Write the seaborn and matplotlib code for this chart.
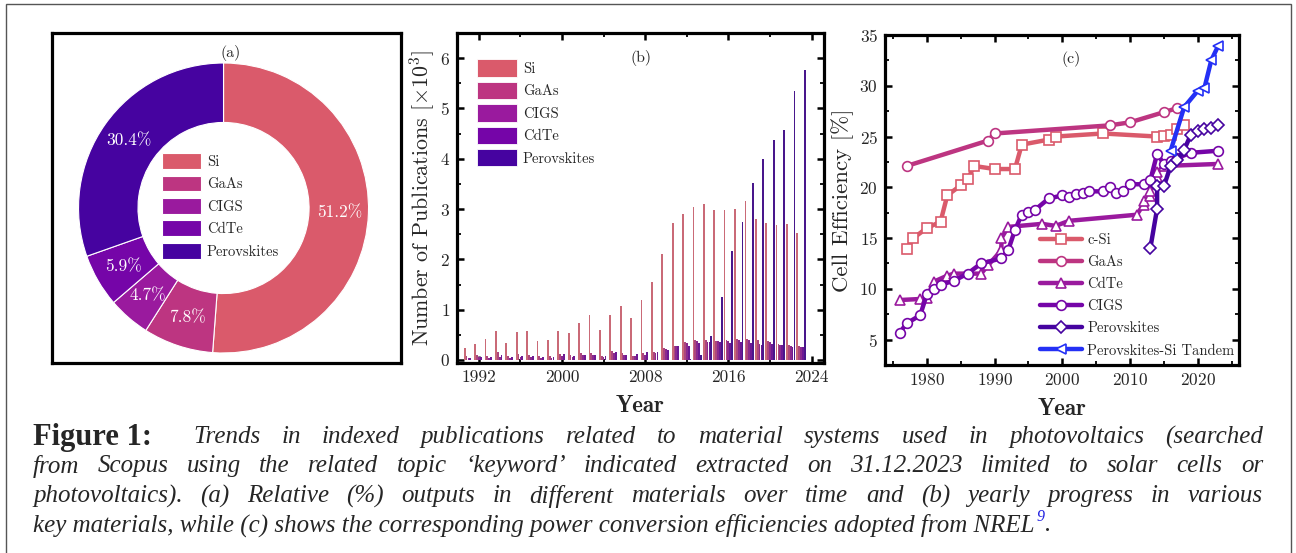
import numpy as np
import pandas as pd
import matplotlib
matplotlib.use('Agg')
import matplotlib.pyplot as plt
import seaborn as sns
from matplotlib.patches import Patch, Rectangle
from matplotlib.ticker import AutoMinorLocator, MultipleLocator

# ---- data ----
materials = ['Si', 'GaAs', 'CIGS', 'CdTe', 'Perovskites']
mat_colors = ['#DA5A6B', '#BD3581', '#9A1A9E', '#7505A8', '#4603A0']
share = [51.2, 7.8, 4.7, 5.9, 30.4]

years = list(range(1991, 2024))
pub_si = [0.24, 0.31, 0.42, 0.58, 0.33, 0.55, 0.57, 0.37, 0.40, 0.57, 0.53, 0.74, 0.89,
          0.59, 0.90, 1.08, 0.83, 1.20, 1.56, 2.10, 2.73, 2.91, 3.05, 3.10, 2.98, 2.98,
          3.01, 3.16, 2.80, 2.73, 2.69, 2.70, 2.52]
pub_gaas = [0.07, 0.10, 0.08, 0.15, 0.07, 0.12, 0.10, 0.08, 0.07, 0.12, 0.10, 0.13, 0.13,
            0.08, 0.17, 0.13, 0.08, 0.13, 0.15, 0.23, 0.28, 0.36, 0.40, 0.40, 0.38, 0.40,
            0.42, 0.42, 0.40, 0.37, 0.32, 0.30, 0.28]
pub_cigs = [0.03, 0.05, 0.04, 0.06, 0.04, 0.06, 0.05, 0.04, 0.04, 0.08, 0.06, 0.09, 0.10,
            0.05, 0.13, 0.10, 0.07, 0.10, 0.14, 0.21, 0.28, 0.33, 0.38, 0.36, 0.37, 0.37,
            0.39, 0.39, 0.32, 0.35, 0.30, 0.28, 0.25]
pub_cdte = [0.04, 0.06, 0.05, 0.09, 0.05, 0.08, 0.07, 0.06, 0.06, 0.11, 0.08, 0.10, 0.09,
            0.07, 0.15, 0.09, 0.11, 0.15, 0.15, 0.19, 0.27, 0.27, 0.33, 0.35, 0.35, 0.34,
            0.35, 0.33, 0.30, 0.31, 0.30, 0.26, 0.25]
pub_pero = [0, 0, 0, 0, 0, 0, 0, 0, 0, 0, 0, 0, 0, 0, 0, 0, 0, 0, 0, 0,
            0.005, 0.02, 0.10, 0.47, 1.26, 2.16, 2.75, 3.52, 3.99, 4.38, 4.58, 5.35, 5.77]

csi_yr = [1977, 1978, 1980, 1982, 1983, 1985, 1986, 1987, 1990, 1993, 1994, 1998, 1999,
          2006, 2014, 2015, 2016, 2017, 2018]
csi_eff = [13.9, 15.0, 16.0, 16.6, 19.2, 20.2, 20.8, 22.1, 21.8, 21.8, 24.2, 24.7, 25.0,
           25.3, 25.0, 25.1, 25.2, 25.7, 26.1]
gaas_yr = [1977, 1989, 1990, 2007, 2010, 2015, 2017]
gaas_eff = [22.1, 24.6, 25.3, 26.1, 26.4, 27.4, 27.8]
cdte_yr = [1976, 1979, 1980, 1981, 1983, 1984, 1988, 1989, 1991, 1991, 1992, 1997, 1999,
           2001, 2011, 2012, 2012, 2013, 2013, 2014, 2014, 2015, 2023]
cdte_eff = [8.9, 9.0, 9.1, 10.7, 11.3, 11.5, 11.5, 12.3, 13.8, 15.0, 16.1, 16.4, 16.2,
            16.7, 17.3, 18.3, 18.7, 19.1, 19.6, 21.0, 21.5, 22.1, 22.3]
cigs_yr = [1976, 1977, 1979, 1980, 1981, 1982, 1984, 1986, 1988, 1991, 1992, 1993, 1994,
           1995, 1996, 1998, 2000, 2001, 2002, 2003, 2004, 2006, 2007, 2008, 2009, 2010,
           2012, 2013, 2014, 2015, 2016, 2017, 2019, 2023]
cigs_eff = [5.7, 6.6, 7.4, 9.5, 10.0, 10.4, 10.8, 11.5, 12.5, 13.0, 13.8, 15.8, 17.3,
            17.6, 17.8, 18.9, 19.2, 19.0, 19.3, 19.4, 19.6, 19.6, 20.0, 19.4, 19.6, 20.3,
            20.3, 20.7, 23.3, 22.3, 22.6, 22.9, 23.4, 23.6]
pero_yr = [2013, 2014, 2014, 2015, 2016, 2017, 2018, 2019, 2020, 2021, 2022, 2023]
pero_eff = [14.0, 17.9, 20.1, 20.1, 22.1, 22.7, 23.7, 25.2, 25.5, 25.7, 25.8, 26.1]
tand_yr = [2016, 2018, 2020, 2021, 2022, 2023]
tand_eff = [23.6, 27.9, 29.5, 29.8, 32.5, 33.9]

eff_series = [('c-Si', csi_yr, csi_eff, 's', '#DA5A6B'),
              ('GaAs', gaas_yr, gaas_eff, 'o', '#BD3581'),
              ('CdTe', cdte_yr, cdte_eff, '^', '#9A1A9E'),
              ('CIGS', cigs_yr, cigs_eff, 'o', '#7505A8'),
              ('Perovskites', pero_yr, pero_eff, 'D', '#4603A0'),
              ('Perovskites-Si Tandem', tand_yr, tand_eff, '<', '#2430F5')]

caption_lines = [
    'Trends in indexed publications related to material systems used in photovoltaics (searched',
    'from Scopus using the related topic \u2018keyword\u2019 indicated extracted on 31.12.2023 limited to solar cells or',
    'photovoltaics). (a) Relative (%) outputs in different materials over time and (b) yearly progress in various',
    'key materials, while (c) shows the corresponding power conversion efficiencies adopted from NREL',
]

# ---- style ----
sns.set_theme(style='ticks')
plt.rcParams['font.family'] = ['cmr10', 'DejaVu Serif']
plt.rcParams['mathtext.fontset'] = 'cm'
plt.rcParams['axes.formatter.use_mathtext'] = True
plt.rcParams['axes.unicode_minus'] = False

W, H = 1296, 553
fig = plt.figure(figsize=(W / 100, H / 100), dpi=100)
fig.patch.set_facecolor('white')


def px(l, t, r, b):
    return [l / W, 1 - b / H, (r - l) / W, (b - t) / H]


ax_a = fig.add_axes(px(52, 33, 401, 363))
ax_b = fig.add_axes(px(457, 33, 824, 363))
ax_c = fig.add_axes(px(885, 35, 1239, 365))

for ax in (ax_a, ax_b, ax_c):
    for s in ax.spines.values():
        s.set_linewidth(2.3)
        s.set_color('black')

# ---- (a) donut ----
wedges, _, autotexts = ax_a.pie(share, colors=mat_colors, startangle=90, counterclock=False,
                                radius=1, autopct='%.1f%%', pctdistance=0.8,
                                wedgeprops=dict(width=0.41, edgecolor='white', linewidth=0.8),
                                textprops=dict(color='white', fontsize=12.5))
ax_a.set_xlim(-1.183, 1.224)
ax_a.set_ylim(-1.069, 1.207)
ax_a.set_aspect('auto')
ax_a.set_frame_on(True)
ax_a.set_xticks([])
ax_a.set_yticks([])
ax_a.text(0.512, 0.939, '(a)', transform=ax_a.transAxes, ha='center', va='center', fontsize=11.5)
ax_a.legend(wedges, materials, loc='upper left', bbox_to_anchor=(0.315, 0.636), frameon=False,
            fontsize=10.5, handlelength=2.67, handleheight=1.3, labelspacing=0.45,
            handletextpad=0.4, borderpad=0, borderaxespad=0)

# ---- (b) bars ----
df_b = pd.DataFrame({
    'Year': years * 5,
    'Count': pub_si + pub_gaas + pub_cigs + pub_cdte + pub_pero,
    'Material': np.repeat(materials, len(years)),
})
sns.barplot(data=df_b, x='Year', y='Count', hue='Material', hue_order=materials,
            palette=mat_colors, native_scale=True, width=0.9, gap=0.05, errorbar=None,
            linewidth=0, legend=False, ax=ax_b)
ax_b.set_xlim(1989.9, 2025.2)
ax_b.set_ylim(-0.06, 6.5)
ax_b.set_xticks([1992, 2000, 2008, 2016, 2024])
ax_b.set_xticklabels(['1992', '2000', '2008', '2016', '2024'])
ax_b.xaxis.set_minor_locator(MultipleLocator(4))
ax_b.yaxis.set_major_locator(MultipleLocator(1))
ax_b.yaxis.set_minor_locator(AutoMinorLocator(2))
ax_b.set_xlabel('Year', family='cmb10', fontsize=16.5, labelpad=7)
ax_b.set_ylabel(r'Number of Publications [$\times10^3$]', fontsize=15.8, labelpad=2)
ax_b.text(0.501, 0.924, '(b)', transform=ax_b.transAxes, ha='center', va='center', fontsize=11.5)
handles_b = [Patch(facecolor=c, edgecolor='white', linewidth=0.6) for c in mat_colors]
ax_b.legend(handles_b, materials, loc='upper left', bbox_to_anchor=(0.055, 0.92), frameon=False,
            fontsize=10.5, handlelength=2.74, handleheight=1.45, labelspacing=0.35,
            handletextpad=0.4, borderpad=0, borderaxespad=0)

# ---- (c) efficiencies ----
for name, yr, eff, mk, col in eff_series:
    sns.lineplot(x=yr, y=eff, estimator=None, sort=False, color=col, linewidth=3.2,
                 marker=mk, markersize=7 if mk != 'D' else 6, markerfacecolor='white',
                 markeredgecolor=col, markeredgewidth=1.2, label=name, ax=ax_c)
ax_c.set_xlim(1973.8, 2026.1)
ax_c.set_ylim(2.5, 35)
ax_c.xaxis.set_major_locator(MultipleLocator(10))
ax_c.xaxis.set_minor_locator(MultipleLocator(5))
ax_c.yaxis.set_major_locator(MultipleLocator(5))
ax_c.yaxis.set_minor_locator(MultipleLocator(2.5))
ax_c.set_xlabel('Year', family='cmb10', fontsize=16.5, labelpad=7)
ax_c.set_ylabel('Cell Efficiency [%]', fontsize=16.5, labelpad=4)
ax_c.text(0.525, 0.927, '(c)', transform=ax_c.transAxes, ha='center', va='center', fontsize=11.5)
ax_c.legend(loc='upper left', bbox_to_anchor=(0.438, 0.40), frameon=False, fontsize=10.5,
            handlelength=2.9, labelspacing=0.58, handletextpad=0.35, borderpad=0,
            borderaxespad=0)

for ax in (ax_b, ax_c):
    ax.tick_params(which='both', direction='in', top=True, right=True, labelsize=12.5,
                   color='black', pad=5)
    ax.tick_params(which='major', length=5, width=1.8)
    ax.tick_params(which='minor', length=3, width=1.3)

# ---- caption ----
fig.add_artist(Rectangle((6 / W, -0.02), (1291 - 6) / W, 1 - 4 / H + 0.02,
                         transform=fig.transFigure, fill=False, lw=1.0, ec='#555555'))
cap_font = 'Liberation Serif'
cap_size = 18
cap_kw = dict(family=cap_font, style='italic', fontsize=cap_size, va='center', ha='left')
ys = [437, 466, 496, 525]
renderer = fig.canvas.get_renderer()


def justify(line, x0, x1, y):
    words = line.split(' ')
    objs = [fig.text(0, 1 - y / H, w, **cap_kw) for w in words]
    widths = [o.get_window_extent(renderer).width for o in objs]
    gap = (x1 - x0 - sum(widths)) / (len(words) - 1)
    x = x0
    for o, w in zip(objs, widths):
        o.set_x(x / W)
        x += w + gap


fig.text(33 / W, 1 - ys[0] / H, 'Figure 1:', family=cap_font, weight='bold',
         fontsize=22, va='center', ha='left')
justify(caption_lines[0], 193, 1263, ys[0])
justify(caption_lines[1], 33, 1263, ys[1])
justify(caption_lines[2], 33, 1263, ys[2])
last = fig.text(33 / W, 1 - ys[3] / H, caption_lines[3], **cap_kw)
sup = plt.annotate('9', xy=(1.0, 0.5), xycoords=last, xytext=(1.5, 0), textcoords='offset points',
                   family=cap_font, style='italic', fontsize=11.5, color='#2020E0',
                   ha='left', va='bottom', annotation_clip=False)
plt.annotate('.', xy=(1.0, 0.5), xycoords=(sup, last), xytext=(0.5, 0),
             textcoords='offset points', family=cap_font, style='italic', fontsize=cap_size,
             ha='left', va='center', annotation_clip=False)

fig.savefig('out.png', dpi=100, facecolor='white')
